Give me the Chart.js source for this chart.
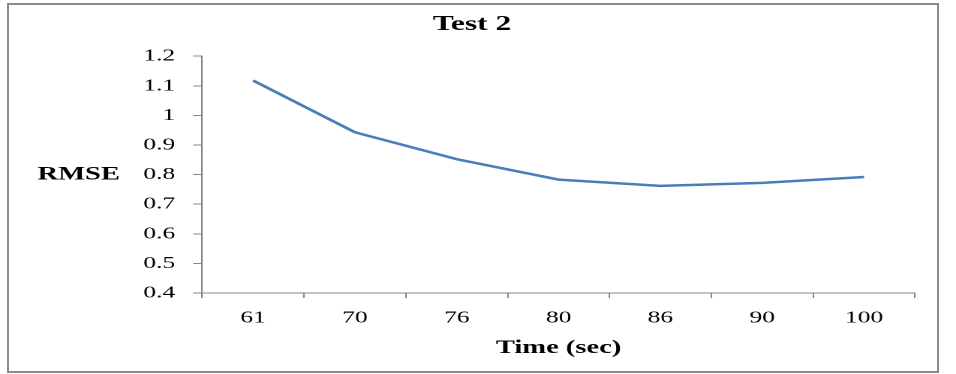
<!DOCTYPE html>
<html>
<head>
<meta charset="utf-8">
<script src="https://cdn.jsdelivr.net/npm/chart.js@4.4.1/dist/chart.umd.min.js"></script>
<style>
    html, body { margin: 0; padding: 0; background: #ffffff; }
    #page { position: relative; width: 956px; height: 374px; overflow: hidden; }
    #stretch { position: absolute; left: 0; top: 0; width: 637px; height: 374px; transform: scaleX(1.5008); transform-origin: 0 0; }
    #frame { position: absolute; left: 7px; top: 3px; width: 932px; height: 370px; border: 2px solid #8c8c8c; box-sizing: border-box; pointer-events: none; }
</style>
</head>
<body>
<div id="page">
    <div id="stretch"><canvas id="plotCanvas" width="637" height="374"></canvas></div>
    <div id="frame"></div>
</div>
<script>
var chartTitle = 'Test 2';
var xTitle = 'Time (sec)';
var yTitle = 'RMSE';
var timeLabels = ['61', '70', '76', '80', '86', '90', '100'];
var rmseValues = [1.118, 0.943, 0.852, 0.783, 0.762, 0.772, 0.792];
var yTickLabels = ['0.4', '0.5', '0.6', '0.7', '0.8', '0.9', '1', '1.1', '1.2'];

var serif = '"Liberation Serif", "Times New Roman", serif';
var axisGray = '#868686';

// y axis title is horizontal in the original, so draw it by hand
var sideLabel = {
    id: 'sideLabel',
    afterDraw: function (chart) {
        var ctx = chart.ctx;
        ctx.save();
        ctx.font = 'bold 19px ' + serif;
        ctx.fillStyle = '#000000';
        ctx.textAlign = 'left';
        ctx.textBaseline = 'middle';
        ctx.fillText(yTitle, 25, chart.scales.y.getPixelForValue(0.8));
        ctx.restore();
    }
};

function pltLineplot() {
    var canvas = document.getElementById('plotCanvas');
    var ctx = canvas.getContext('2d');

    var data = {
        labels: timeLabels,
        datasets: [{
            label: yTitle,
            data: rmseValues,
            borderColor: 'rgb(74, 126, 187)',
            borderWidth: 2.5,
            pointRadius: 0,
            tension: 0,
            fill: false
        }]
    };

    var options = {
        responsive: false,
        animation: false,
        devicePixelRatio: 2,
        layout: {
            padding: { left: 19.3, right: 27.3, top: 0, bottom: 0 }
        },
        plugins: {
            legend: { display: false },
            tooltip: { enabled: false },
            title: {
                display: true,
                text: chartTitle,
                color: '#000000',
                font: { family: serif, size: 21, weight: 'bold' },
                padding: { top: 12, bottom: 19 }
            }
        },
        scales: {
            x: {
                type: 'category',
                offset: true,
                grid: {
                    offset: true,
                    drawOnChartArea: false,
                    drawTicks: true,
                    tickLength: 5,
                    color: axisGray
                },
                border: { color: axisGray, width: 1 },
                ticks: {
                    color: '#000000',
                    padding: 10,
                    maxRotation: 0,
                    font: { family: serif, size: 17 }
                },
                title: {
                    display: true,
                    text: xTitle,
                    color: '#000000',
                    font: { family: serif, size: 19, weight: 'bold' },
                    padding: { top: 4, bottom: 14.6 }
                },
                afterFit: function (scale) { scale.height = 81; }
            },
            y: {
                type: 'linear',
                min: 0.4,
                max: 1.2,
                grid: {
                    drawOnChartArea: false,
                    drawTicks: true,
                    tickLength: 6,
                    color: axisGray
                },
                border: { color: axisGray, width: 1 },
                ticks: {
                    stepSize: 0.1,
                    color: '#000000',
                    padding: 12,
                    font: { family: serif, size: 17 },
                    callback: function (value, index) { return yTickLabels[index]; }
                },
                afterFit: function (scale) { scale.width = 115.4; }
            }
        }
    };

    new Chart(ctx, {
        type: 'line',
        data: data,
        options: options,
        plugins: [sideLabel]
    });
}

pltLineplot();
</script>
</body>
</html>
